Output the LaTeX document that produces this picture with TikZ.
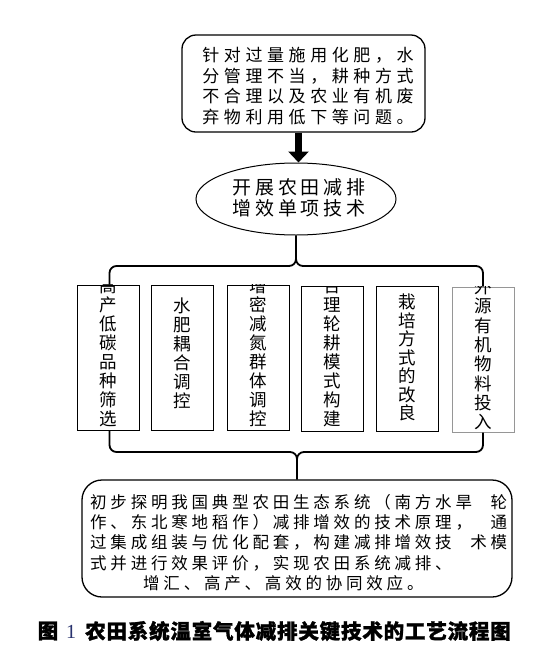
\documentclass[tikz,border=0pt]{standalone}
\usepackage{fontspec}
\setmainfont{Noto Sans CJK SC}
\newfontfamily\fTop{Noto Sans CJK SC}[LetterSpace=27]
\newfontfamily\fEll{Noto Sans CJK SC}[LetterSpace=19]
\newfontfamily\fBot{Noto Sans CJK SC}[LetterSpace=23]
\newfontfamily\fCap{Noto Sans CJK SC}[LetterSpace=4, BoldFeatures={FakeBold=1.2}]
\newfontfamily\fNum{Liberation Serif}
\usetikzlibrary{shapes.geometric,arrows.meta}
\definecolor{numblue}{RGB}{40,50,110}
\definecolor{boxgray}{RGB}{150,150,150}
\begin{document}
\begin{tikzpicture}[x=1pt,y=-1pt,
  topbox/.style={draw, line width=1.3pt, rounded corners=14pt, minimum width=243pt, minimum height=97pt, inner sep=0pt},
  botbox/.style={draw, line width=1.3pt, rounded corners=20pt, minimum width=430pt, minimum height=117pt, inner sep=0pt},
  ellbox/.style={draw, ellipse, line width=1pt, minimum width=200pt, minimum height=72pt, inner sep=0pt},
  techbox/.style={draw, line width=1pt, minimum width=62pt, minimum height=145pt, inner sep=0pt},
  vtext/.style={font=\fontsize{17.5pt}{19pt}\selectfont, align=center, inner sep=0pt},
  brace/.style={line width=1.8pt, rounded corners=7pt},
  bigarrow/.style={line width=7pt, -{Triangle[width=20pt,length=11pt]}}
]
\fill[white] (0,0) rectangle (555,665);
\useasboundingbox (0,0) rectangle (555,665);

% top box
\node[topbox] (top) at (303.5,83.5) {};
\node[font=\fTop\fontsize{17pt}{20.7pt}\selectfont, align=left, inner sep=0pt] (toptxt) at (308,86)
 {针对过量施用化肥，水\\分管理不当，耕种方式\\不合理以及农业有机废\\弃物利用低下等问题。};

% ellipse
\node[ellbox] (ell) at (296,199) {};
\node[font=\fEll\fontsize{19pt}{21pt}\selectfont, align=center, inner sep=0pt] (elltxt) at (299,197.5)
 {开展农田减排\\增效单项技术};

\draw[bigarrow] ([xshift=-5pt]top.south) -- ([xshift=2.5pt]ell.north);

% technique boxes
\node[techbox] (b1) at (108,357.5) {};
\node[techbox] (b2) at (182,357.5) {};
\node[techbox] (b3) at (258,357.5) {};
\node[techbox] (b4) at (332.5,358.5) {};
\node[techbox] (b5) at (407.5,358.5) {};
\node[techbox, draw=boxgray] (b6) at (483,359.5) {};

\begin{scope}
\clip (b1.north west) rectangle (b1.south east);
\node[vtext] (t1) at (108,352.5) {高\\产\\低\\碳\\品\\种\\筛\\选};
\end{scope}
\node[vtext] (t2) at (182,353.5) {水\\肥\\耦\\合\\调\\控};
\begin{scope}
\clip (b3.north west) rectangle (b3.south east);
\node[vtext] (t3) at (258,352.5) {增\\密\\减\\氮\\群\\体\\调\\控};
\end{scope}
\begin{scope}
\clip (b4.north west) rectangle (b4.south east);
\node[vtext] (t4) at (332.5,352.5) {合\\理\\轮\\耕\\模\\式\\构\\建};
\end{scope}
\node[vtext, font=\fontsize{17.5pt}{18.5pt}\selectfont] (t5) at (407.5,357.5) {栽\\培\\方\\式\\的\\改\\良};
\begin{scope}
\clip (b6.north west) rectangle (b6.south east);
\node[vtext, font=\fontsize{17.5pt}{19.3pt}\selectfont] (t6) at (483,354.5) {外\\源\\有\\机\\物\\料\\投\\入};
\end{scope}

% bottom box
\node[botbox] (bot) at (297,538.5) {};
\node[font=\fBot\fontsize{16.5pt}{20.3pt}\selectfont, align=left, anchor=west, inner sep=0pt] (bottxt) at (90,542.5)
 {\makebox[417pt][s]{初步探明我国典型农田生态系统（南方水旱 轮}\\
  \makebox[417pt][s]{作、东北寒地稻作）减排增效的技术原理， 通}\\
  \makebox[417pt][s]{过集成组装与优化配套，构建减排增效技 术模}\\
  式并进行效果评价，实现农田系统减排、\\
  \hspace*{53pt}增汇、高产、高效的协同效应。};

% braces
\coordinate (hTop) at (0,266);
\coordinate (hBot) at (0,452);
\draw[brace] (ell.south) -- (ell.south |- hTop) -- ([xshift=1.5pt]b1.north |- hTop) -- ([xshift=1.5pt]b1.north);
\draw[brace] (ell.south) -- (ell.south |- hTop) -- (b6.north |- hTop) -- (b6.north);
\draw[brace] ([xshift=1.5pt]b1.south) -- ([xshift=1.5pt]b1.south |- hBot) -- (bot.north |- hBot) -- (bot.north);
\draw[brace] (b6.south) -- (b6.south |- hBot) -- (bot.north |- hBot) -- (bot.north);

% caption
\node[font=\fCap\bfseries\fontsize{20.5pt}{20pt}\selectfont, inner sep=0pt] (cap1) at (48,631) {图};
\node[font=\fNum\fontsize{20pt}{20pt}\selectfont, text=numblue, inner sep=0pt] (cap2) at (71,632) {1};
\node[font=\fCap\bfseries\fontsize{20.5pt}{20pt}\selectfont, anchor=west, inner sep=0pt] (cap3) at (85,631)
 {农田系统温室气体减排关键技术的工艺流程图};
\end{tikzpicture}
\end{document}
